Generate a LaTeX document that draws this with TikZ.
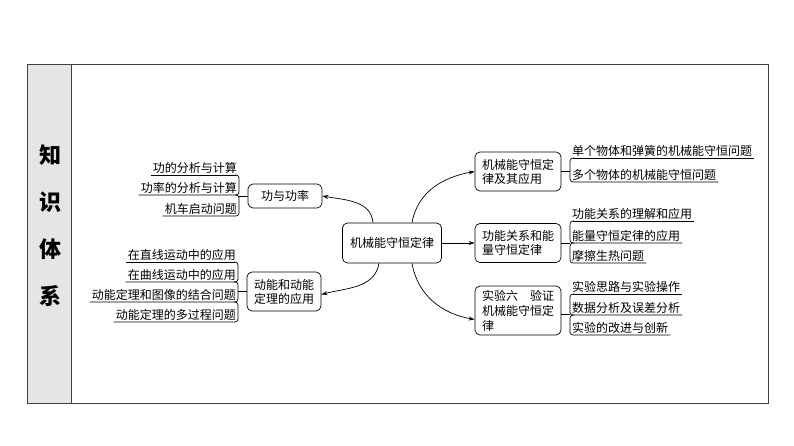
\documentclass[tikz,border=0pt]{standalone}
\usepackage{fontspec}
\setmainfont{Noto Sans CJK SC}
\usetikzlibrary{arrows.meta, positioning}

\begin{document}
\begin{tikzpicture}[
  x=1pt, y=-1pt,
  font=\fontsize{12}{14}\selectfont,
  topic/.style={draw, rounded corners=5pt, align=left, inner xsep=7pt, line width=0.7pt, minimum width=86pt, minimum height=39pt},
  small/.style={topic, minimum width=74pt, minimum height=24pt},
  leaf/.style={inner xsep=2pt, inner ysep=1.5pt},
  brace/.style={rounded corners=3pt, line width=0.7pt},
  arrow/.style={-{Stealth[length=6pt, width=4pt]}, line width=0.7pt}
]
\useasboundingbox (0,0) rectangle (794,446);
% frame and side title
\fill[black!10] (27,65) rectangle (71,403);
\draw[black!75, line width=1pt] (27,65) rectangle (768,403);
\draw[black!75, line width=1pt] (71,65) -- (71,403);
\node[font=\fontsize{22}{47}\selectfont\bfseries, align=center] (title) at (50,226) {知\\识\\体\\系};

% topics
\node[topic, minimum width=99pt, minimum height=40pt] (main) at (392,243) {机械能守恒定律};
\node[small] (power) at (285,196) {功与功率};
\node[small, minimum height=39pt] (kin) at (284,291.5) {动能和动能\\定理的应用};
\node[topic] (law) at (518,171.5) {机械能守恒定\\律及其应用};
\node[topic] (energy) at (518,243) {功能关系和能\\量守恒定律};
\node[topic, minimum height=49pt, font=\fontsize{12}{15}\selectfont] (exp) at (518,310.5) {实验六\quad 验证\\机械能守恒定\\律};

\draw[arrow] ([xshift=-19pt]main.north) to[out=95, in=-10] (power.east);
\draw[arrow] ([xshift=-13pt]main.south) to[out=-100, in=15] ([yshift=-3pt]kin.east);
\draw[arrow] ([xshift=20pt]main.north) to[out=80, in=190] (law.west);
\draw[arrow] (main) -- (energy);
\draw[arrow] ([xshift=20pt]main.south) to[out=-80, in=170] ([yshift=-9pt]exp.west);

% leaves, left side
\node[leaf, anchor=south east] (pow1) at (239,175) {功的分析与计算};
\node[leaf, anchor=south east] (pow2) at (239,195) {功率的分析与计算};
\node[leaf, anchor=south east] (pow3) at (239,216) {机车启动问题};
\node[leaf, anchor=south east] (kin1) at (238,262) {在直线运动中的应用};
\node[leaf, anchor=south east] (kin2) at (238,282) {在曲线运动中的应用};
\node[leaf, anchor=south east] (kin3) at (238,302) {动能定理和图像的结合问题};
\node[leaf, anchor=south east] (kin4) at (238,322) {动能定理的多过程问题};

\draw[brace] ([xshift=-3pt]pow1.south east) -- (pow1.south west);
\draw[brace] ([xshift=-4pt]pow1.south east) -- (pow1.south east) -- (pow2.south east) -- (pow2.south west);
\draw[brace] ([xshift=-4pt]pow2.south east) -- (pow2.south east) -- (pow3.south east) -- (pow3.south west);
\draw[line width=0.7pt] (power.west) -- (power.west -| pow1.south east);

\draw[brace] ([xshift=-3pt]kin1.south east) -- (kin1.south west);
\draw[brace] ([xshift=-4pt]kin1.south east) -- (kin1.south east) -- (kin2.south east) -- (kin2.south west);
\draw[brace] ([xshift=-4pt]kin2.south east) -- (kin2.south east) -- (kin3.south east) -- (kin3.south west);
\draw[brace] ([xshift=-4pt]kin3.south east) -- (kin3.south east) -- (kin4.south east) -- (kin4.south west);
\draw[line width=0.7pt] (kin.west) -- (kin.west -| kin1.south east);

% leaves, right side
\node[leaf, anchor=south west] (law1) at (570,158) {单个物体和弹簧的机械能守恒问题};
\node[leaf, anchor=south west] (law2) at (570,182) {多个物体的机械能守恒问题};
\node[leaf, anchor=south west] (energy1) at (570,221) {功能关系的理解和应用};
\node[leaf, anchor=south west] (energy2) at (570,243) {能量守恒定律的应用};
\node[leaf, anchor=south west] (energy3) at (570,263) {摩擦生热问题};
\node[leaf, anchor=south west] (exp1) at (570,294) {实验思路与实验操作};
\node[leaf, anchor=south west] (exp2) at (570,315) {数据分析及误差分析};
\node[leaf, anchor=south west] (exp3) at (570,335) {实验的改进与创新};

\draw[brace] ([xshift=3pt]law1.south west) -- (law1.south east);
\draw[brace] ([xshift=4pt]law1.south west) -- (law1.south west) -- (law2.south west) -- (law2.south east);
\draw[line width=0.7pt] (law.east) -- (law.east -| law1.south west);

\draw[brace] ([xshift=3pt]energy1.south west) -- (energy1.south east);
\draw[brace] ([xshift=4pt]energy1.south west) -- (energy1.south west) -- (energy2.south west) -- (energy2.south east);
\draw[brace] ([xshift=4pt]energy2.south west) -- (energy2.south west) -- (energy3.south west) -- (energy3.south east);
\draw[line width=0.7pt] (energy.east) -- (energy.east -| energy1.south west);

\draw[brace] ([xshift=3pt]exp1.south west) -- (exp1.south east);
\draw[brace] ([xshift=4pt]exp1.south west) -- (exp1.south west) -- (exp2.south west) -- (exp2.south east);
\draw[brace] ([xshift=4pt]exp2.south west) -- (exp2.south west) -- (exp3.south west) -- (exp3.south east);
\draw[line width=0.7pt] ([yshift=-4pt]exp.east) -- ([yshift=-4pt]exp.east -| exp1.south west);
\end{tikzpicture}
\end{document}
